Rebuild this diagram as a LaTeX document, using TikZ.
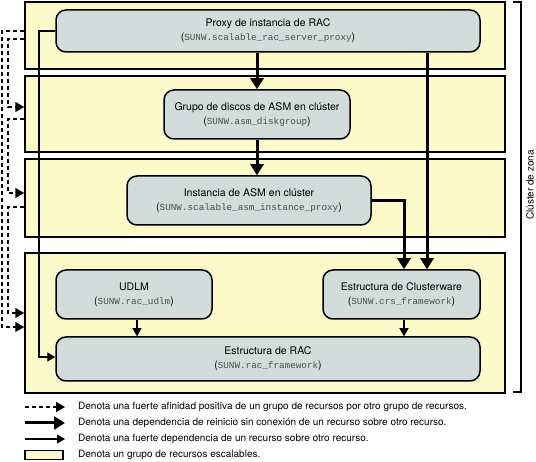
\documentclass[tikz,border=0pt]{standalone}
\usepackage{fontspec}
\setmainfont{TeX Gyre Heros}
\newfontfamily\codefont{Liberation Mono}
\usetikzlibrary{arrows.meta}
\usetikzlibrary{positioning}

\definecolor{grpyellow}{HTML}{FCFAC8}
\definecolor{resgray}{HTML}{D4DBDB}
\newcommand{\rescode}[1]{({\codefont\fontsize{9.3}{11}\selectfont\color{black!70}#1})}

\tikzset{
  grp/.style={draw, line width=1.5pt, fill=grpyellow, minimum width=480pt, inner sep=0pt},
  res/.style={draw, line width=1.5pt, fill=resgray, rounded corners=10pt, align=center,
    inner sep=0pt, font=\fontsize{10.5}{13}\selectfont},
  restart/.style={line width=3pt, -{Triangle[length=11pt,width=13pt]}},
  strong/.style={line width=1.2pt, -{Triangle[length=8pt,width=9pt]}},
  affinity/.style={line width=1.5pt, dash pattern=on 4pt off 3pt, -{Triangle[length=9pt,width=10pt]}},
  legendtext/.style={anchor=west, inner sep=0pt, font=\fontsize{10}{12}\selectfont}
}

\begin{document}
\begin{tikzpicture}[x=1pt,y=-1pt]
  \useasboundingbox (0,0) rectangle (536,462);

  %% resource groups
  \node[grp, minimum height=67pt] (g1) at (265,35.5) {};
  \node[grp, minimum height=76pt] (g2) at (265,114) {};
  \node[grp, minimum height=78pt] (g3) at (265,198) {};
  \node[grp, minimum height=140pt] (g4) at (265,323) {};

  %% resources
  \node[res, minimum width=424pt, minimum height=42pt] (proxy) at (268,31)
    {Proxy de instancia de RAC\\[1pt]\rescode{SUNW.scalable\_rac\_server\_proxy}};
  \node[res, minimum width=186pt, minimum height=49pt] (dg) at (257,114.5)
    {Grupo de discos de ASM en clúster\\[1pt]\rescode{SUNW.asm\_diskgroup}};
  \node[res, minimum width=244pt, minimum height=49pt] (asm) at (249,200.5)
    {Instancia de ASM en clúster\\[1pt]\rescode{SUNW.scalable\_asm\_instance\_proxy}};
  \node[res, minimum width=156pt, minimum height=49pt] (udlm) at (134,294.5)
    {UDLM\\[1pt]\rescode{SUNW.rac\_udlm}};
  \node[res, minimum width=157pt, minimum height=49pt] (crs) at (401.5,294.5)
    {Estructura de Clusterware\\[1pt]\rescode{SUNW.crs\_framework}};
  \node[res, minimum width=424pt, minimum height=44pt] (fw) at (268,359)
    {Estructura de RAC\\[1pt]\rescode{SUNW.rac\_framework}};

  %% offline-restart dependencies
  \coordinate (px) at (427,0);
  \coordinate (ax) at (404,0);
  \draw[restart] (proxy.south -| dg.north) -- (dg.north);
  \draw[restart] (dg.south) -- (dg.south |- asm.north);
  \draw[restart] (proxy.south -| px) -- (crs.north -| px);
  \draw[restart] (asm.east) -- (asm.east -| ax) -- (crs.north -| ax);

  %% strong dependencies
  \coordinate (lx) at (39,0);
  \draw[strong] (udlm.south -| 137,0) -- (fw.north -| 137,0);
  \draw[strong] (crs.south -| ax) -- (fw.north -| ax);
  \draw[strong] (proxy.west) -- (proxy.west -| lx) |- ([yshift=2pt]fw.west);

  %% strong positive affinities
  \coordinate (d1) at (2,0);
  \coordinate (d2) at (8,0);
  \coordinate (a1) at ([yshift=4.5pt]g1.west);
  \coordinate (a2) at ([yshift=-3.5pt]g1.west);
  \coordinate (a3) at ([yshift=-5pt]g2.west);
  \coordinate (a4) at ([yshift=-9pt]g3.west);
  \coordinate (b1) at ([yshift=-4pt]g4.west);
  \coordinate (b2) at ([yshift=7pt]g2.west);
  \coordinate (b3) at ([yshift=5pt]g3.west);
  \coordinate (b4) at ([yshift=10pt]g4.west);
  \draw[affinity] (a1) -- (a1 -| d1) |- (b1);
  \draw[affinity] (a2) -- (a2 -| d2) |- (b2);
  \draw[affinity] (a3) -- (a3 -| d2) |- (b3);
  \draw[affinity] (a4) -- (a4 -| d2) |- (b4);

  %% zone cluster bracket
  \draw[line width=1.5pt] (513,2) -- (521,2) -- (521,392) -- (513,392);
  \node[rotate=90, inner sep=1pt, font=\fontsize{10}{12}\selectfont] (zc) at (530,185) {Clúster de zona};

  %% legend
  \coordinate (l1) at (25,407); \coordinate (l1e) at (65,407);
  \coordinate (l2) at (25,423); \coordinate (l2e) at (65,423);
  \coordinate (l3) at (25,439); \coordinate (l3e) at (65,439);
  \draw[affinity] (l1) -- (l1e);
  \draw[restart] (l2) -- (l2e);
  \draw[strong] (l3) -- (l3e);
  \node[grp, minimum width=38pt, minimum height=9pt] (lg) at (44,455) {};
  \node[legendtext] (t1) at (78,407) {Denota una fuerte afinidad positiva de un grupo de recursos por otro grupo de recursos.};
  \node[legendtext] (t2) at (78,423) {Denota una dependencia de reinicio sin conexión de un recurso sobre otro recurso.};
  \node[legendtext] (t3) at (78,439) {Denota una fuerte dependencia de un recurso sobre otro recurso.};
  \node[legendtext] (t4) at (78,455) {Denota un grupo de recursos escalables.};
\end{tikzpicture}
\end{document}
